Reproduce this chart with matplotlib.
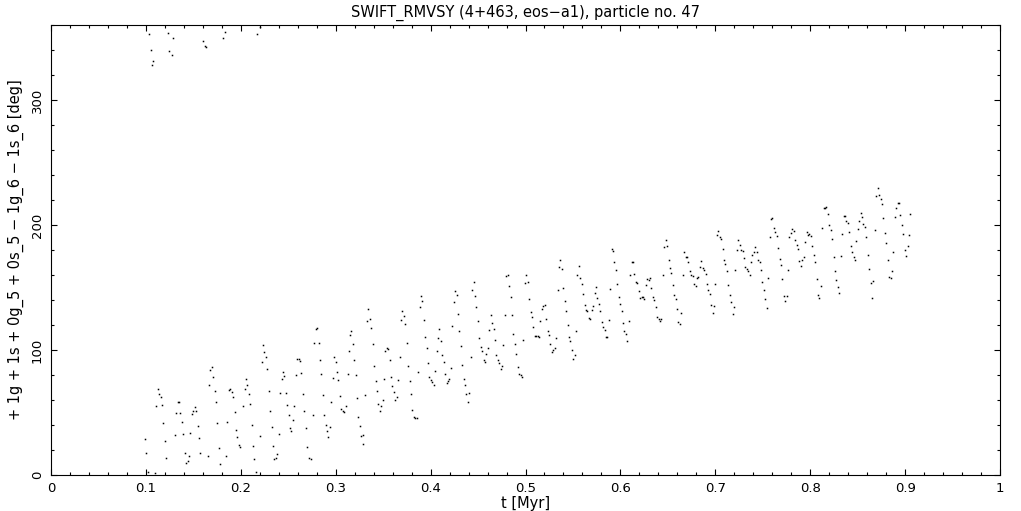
import matplotlib
matplotlib.use('Agg')
import matplotlib.pyplot as plt
from matplotlib.ticker import MultipleLocator

# resonant angle of particle 47 (t in Myr, angle in deg)
t_myr = [
    # 0.10 - 0.25
    0.0991, 0.1004, 0.1025, 0.1096, 0.1131, 0.1141, 0.1159, 0.1173, 0.1110, 0.1180,
    0.1205, 0.1215, 0.1342, 0.1352, 0.1320, 0.1359, 0.1384, 0.1310, 0.1394, 0.1415,
    0.1451, 0.1444, 0.1426, 0.1468, 0.1486, 0.1500, 0.1521, 0.1531, 0.1552, 0.1563,
    0.1573, 0.1668, 0.1679, 0.1700, 0.1710, 0.1731, 0.1742, 0.1752, 0.1773, 0.1784,
    0.1658, 0.1879, 0.1889, 0.1910, 0.1921, 0.1942, 0.1953, 0.1963, 0.1984, 0.1995,
    0.1858, 0.1847, 0.2026, 0.2047, 0.2058, 0.2068, 0.2090, 0.2100, 0.2121, 0.2132,
    0.2142, 0.2163, 0.2227, 0.2279, 0.2300, 0.2311, 0.2332, 0.2342, 0.2353, 0.2374,
    0.2385, 0.2406, 0.2416, 0.2437, 0.2448, 0.2458, 0.2479, 0.2490, 0.2511, 0.2205,
    0.2237, 0.2248, 0.2269,
    # wrapped around 360
    0.1036, 0.1057, 0.1075, 0.1068, 0.1236, 0.1289, 0.1247, 0.1272, 0.1605, 0.1623,
    0.1633, 0.1837, 0.1816, 0.2202, 0.2174,
    # 0.25 - 0.41
    0.2522, 0.2532, 0.2554, 0.2564, 0.2585, 0.2596, 0.2617, 0.2627, 0.2638, 0.2659,
    0.2669, 0.2690, 0.2701, 0.2722, 0.2743, 0.2764, 0.2775, 0.2796, 0.2806, 0.2827,
    0.2838, 0.2849, 0.2870, 0.2880, 0.2901, 0.2912, 0.2922, 0.2943, 0.2954, 0.2975,
    0.2986, 0.3007, 0.3017, 0.3028, 0.3049, 0.3059, 0.3080, 0.3091, 0.3112, 0.3133,
    0.3144, 0.3154, 0.3165, 0.3186, 0.3196, 0.3217, 0.3228, 0.3238, 0.3260, 0.3270,
    0.3291, 0.3291, 0.3312, 0.3344, 0.3333, 0.3365, 0.3375, 0.3397, 0.3407, 0.3428,
    0.3439, 0.3449, 0.3470, 0.3481, 0.3502, 0.3512, 0.3523, 0.3544, 0.3555, 0.3576,
    0.3586, 0.3597, 0.3618, 0.3628, 0.3649, 0.3660, 0.3681, 0.3692, 0.3702, 0.3723,
    0.3734, 0.3755, 0.3765, 0.3786, 0.3797, 0.3808, 0.3829, 0.3839, 0.3860, 0.3871,
    0.3892, 0.3902, 0.3913, 0.3934, 0.3944, 0.3966, 0.3976, 0.3987, 0.4008, 0.4018,
    0.4039, 0.4050, 0.4071, 0.4081, 0.4092,
    # 0.41 - 0.57
    0.4113, 0.4124, 0.4145, 0.4155, 0.4176, 0.4187, 0.4197, 0.4218, 0.4229, 0.4250,
    0.4261, 0.4282, 0.4292, 0.4303, 0.4324, 0.4334, 0.4355, 0.4366, 0.4376, 0.4398,
    0.4408, 0.4429, 0.4440, 0.4461, 0.4471, 0.4482, 0.4503, 0.4513, 0.4535, 0.4545,
    0.4566, 0.4577, 0.4587, 0.4608, 0.4619, 0.4640, 0.4651, 0.4672, 0.4682, 0.4693,
    0.4714, 0.4724, 0.4745, 0.4756, 0.4766, 0.4787, 0.4798, 0.4819, 0.4830, 0.4851,
    0.4861, 0.4872, 0.4893, 0.4903, 0.4924, 0.4935, 0.4956, 0.4967, 0.4977, 0.4998,
    0.5009, 0.5030, 0.5040, 0.5061, 0.5072, 0.5082, 0.5104, 0.5114, 0.5135, 0.5146,
    0.5156, 0.5177, 0.5188, 0.5209, 0.5219, 0.5241, 0.5251, 0.5262, 0.5283, 0.5293,
    0.5314, 0.5325, 0.5346, 0.5356, 0.5367, 0.5388, 0.5399, 0.5420, 0.5430, 0.5451,
    0.5462, 0.5472, 0.5493, 0.5504, 0.5525, 0.5536, 0.5546, 0.5567, 0.5578, 0.5599,
    0.5609, 0.5630, 0.5641, 0.5651, 0.5673, 0.5683, 0.5704, 0.5715,
    # 0.57 - 0.74
    0.5736, 0.5746, 0.5757, 0.5778, 0.5789, 0.5810, 0.5820, 0.5841, 0.5852, 0.5862,
    0.5883, 0.5894, 0.5915, 0.5926, 0.5936, 0.5957, 0.5968, 0.5989, 0.5999, 0.6020,
    0.6031, 0.6041, 0.6062, 0.6073, 0.6094, 0.6105, 0.6126, 0.6136, 0.6147, 0.6168,
    0.6178, 0.6199, 0.6210, 0.6231, 0.6242, 0.6252, 0.6273, 0.6284, 0.6305, 0.6315,
    0.6326, 0.6347, 0.6358, 0.6379, 0.6389, 0.6410, 0.6421, 0.6431, 0.6452, 0.6463,
    0.6484, 0.6494, 0.6515, 0.6526, 0.6537, 0.6558, 0.6568, 0.6589, 0.6600, 0.6610,
    0.6631, 0.6642, 0.6663, 0.6674, 0.6695, 0.6705, 0.6716, 0.6737, 0.6747, 0.6768,
    0.6779, 0.6800, 0.6811, 0.6821, 0.6842, 0.6853, 0.6874, 0.6884, 0.6905, 0.6916,
    0.6927, 0.6948, 0.6958, 0.6979, 0.6990, 0.7000, 0.7021, 0.7032, 0.7053, 0.7063,
    0.7085, 0.7095, 0.7106, 0.7127, 0.7137, 0.7158, 0.7169, 0.7190, 0.7200, 0.7211,
    0.7232, 0.7243, 0.7264, 0.7274, 0.7295, 0.7306, 0.7316, 0.7337, 0.7348,
    # 0.74 - 0.91
    0.7369, 0.7380, 0.7390, 0.7411, 0.7422, 0.7443, 0.7453, 0.7475, 0.7485, 0.7496,
    0.7517, 0.7527, 0.7548, 0.7559, 0.7580, 0.7590, 0.7601, 0.7622, 0.7633, 0.7654,
    0.7664, 0.7685, 0.7696, 0.7706, 0.7727, 0.7738, 0.7759, 0.7770, 0.7780, 0.7801,
    0.7812, 0.7833, 0.7843, 0.7864, 0.7875, 0.7885, 0.7906, 0.7917, 0.7938, 0.7949,
    0.7970, 0.7980, 0.7991, 0.8012, 0.8022, 0.8044, 0.8054, 0.8075, 0.8086, 0.8096,
    0.8117, 0.8128, 0.8149, 0.8159, 0.8170, 0.8191, 0.8202, 0.8223, 0.8233, 0.8254,
    0.8265, 0.8275, 0.8296, 0.8307, 0.8328, 0.8339, 0.8360, 0.8370, 0.8381, 0.8402,
    0.8412, 0.8433, 0.8444, 0.8465, 0.8476, 0.8486, 0.8507, 0.8518, 0.8539, 0.8549,
    0.8560, 0.8581, 0.8591, 0.8613, 0.8623, 0.8644, 0.8655, 0.8665, 0.8686, 0.8697,
    0.8718, 0.8728, 0.8750, 0.8760, 0.8771, 0.8792, 0.8802, 0.8823, 0.8834, 0.8855,
    0.8865, 0.8876, 0.8897, 0.8908, 0.8929, 0.8939, 0.8950, 0.8971, 0.8981, 0.9002,
    0.9013, 0.9034, 0.9045, 0.9055,
]

angle_deg = [
    # 0.10 - 0.25
    28.5, 17.3, 2.7, 1.3, 68.5, 64.5, 62.1, 55.7, 54.9, 41.6,
    27.2, 13.3, 58.7, 58.1, 49.3, 49.3, 42.1, 31.7, 32.5, 17.3,
    14.9, 10.9, 9.3, 33.3, 48.5, 51.5, 54.7, 50.9, 38.9, 29.3,
    17.3, 72.0, 83.7, 86.1, 78.1, 66.9, 58.1, 41.6, 21.3, 8.5,
    14.9, 67.7, 69.1, 66.1, 62.1, 50.1, 35.7, 30.1, 23.7, 22.1,
    42.1, 14.9, 54.9, 68.5, 76.5, 71.7, 64.5, 56.5, 39.7, 22.9,
    12.5, 2.1, 90.1, 84.5, 66.9, 50.9, 38.1, 22.9, 12.5, 13.3,
    16.5, 32.5, 65.3, 76.5, 82.1, 78.9, 65.3, 55.7, 47.7, 30.9,
    103.8, 98.2, 94.2,
    # wrapped around 360
    352.5, 339.7, 330.9, 328.0, 353.3, 349.3, 338.9, 336.0, 346.9, 343.5,
    342.1, 354.1, 349.3, 358.1, 352.5,
    # 0.25 - 0.41
    37.3, 34.9, 43.7, 54.9, 79.7, 92.5, 92.5, 90.9, 81.3, 64.5,
    50.9, 37.3, 22.1, 13.3, 12.5, 47.7, 105.3, 116.5, 117.3, 105.3,
    91.7, 80.5, 63.7, 47.7, 39.7, 34.9, 30.1, 38.1, 58.1, 77.3,
    94.1, 90.1, 82.1, 75.7, 62.9, 52.5, 50.9, 50.1, 54.9, 80.5,
    98.9, 111.7, 114.9, 104.5, 91.7, 79.7, 61.3, 46.1, 38.9, 30.9,
    31.7, 24.5, 63.7, 132.5, 122.9, 124.5, 117.3, 104.5, 86.9, 74.9,
    66.9, 56.5, 50.9, 54.9, 59.7, 76.5, 98.9, 101.3, 100.5, 91.7,
    78.1, 70.9, 66.1, 59.7, 62.1, 75.7, 94.1, 123.7, 130.9, 126.9,
    120.5, 105.3, 86.9, 74.9, 64.5, 51.7, 46.1, 45.3, 45.3, 82.1,
    134.1, 142.9, 138.9, 123.7, 110.1, 101.3, 89.3, 78.1, 75.7, 74.1,
    71.7, 82.9, 98.9, 109.3, 116.5,
    # 0.41 - 0.57
    106.9, 95.7, 90.1, 80.5, 73.3, 74.9, 76.5, 85.3, 118.9, 138.1,
    146.9, 143.7, 128.5, 114.9, 102.9, 87.7, 76.5, 71.7, 64.5, 58.1,
    65.3, 94.1, 147.7, 154.1, 142.9, 134.1, 122.9, 109.3, 102.1, 98.9,
    91.7, 90.1, 96.5, 101.3, 115.7, 127.7, 121.3, 116.5, 107.7, 95.7,
    91.7, 89.3, 84.5, 86.9, 103.7, 127.7, 158.9, 159.7, 150.9, 142.1,
    127.7, 112.5, 104.5, 96.5, 86.1, 80.5, 79.7, 78.1, 107.7, 153.3,
    159.7, 154.1, 140.5, 130.1, 126.1, 118.1, 110.9, 110.9, 110.9, 110.1,
    122.9, 132.5, 134.9, 135.7, 124.5, 114.9, 111.7, 104.5, 98.1, 99.7,
    101.3, 109.3, 147.7, 166.1, 171.7, 164.5, 149.3, 138.9, 130.9, 119.7,
    110.1, 106.9, 99.7, 92.5, 95.7, 114.9, 159.7, 166.9, 157.3, 152.5,
    144.5, 135.7, 131.7, 130.9, 125.3, 124.5, 131.7, 134.9,
    # 0.57 - 0.74
    145.3, 150.1, 141.3, 136.5, 130.9, 122.1, 118.1, 115.7, 110.1, 110.1,
    123.7, 148.5, 180.5, 178.9, 170.1, 163.7, 152.5, 142.1, 136.5, 130.9,
    121.3, 114.9, 112.5, 106.9, 122.9, 159.7, 170.1, 170.1, 160.5, 154.1,
    153.3, 146.9, 141.3, 142.1, 142.1, 140.5, 151.7, 156.5, 155.7, 157.3,
    149.3, 142.1, 139.7, 134.1, 126.1, 124.5, 122.9, 124.5, 159.7, 182.1,
    187.7, 182.9, 171.7, 165.3, 161.3, 151.7, 143.7, 140.5, 132.5, 122.1,
    120.5, 129.3, 159.7, 178.1, 174.1, 174.1, 170.1, 162.9, 159.7, 158.9,
    152.5, 150.9, 157.3, 158.1, 166.1, 170.9, 165.3, 163.7, 160.5, 152.5,
    147.7, 144.5, 135.7, 129.3, 134.9, 152.5, 191.7, 194.9, 190.1, 188.5,
    180.5, 171.7, 168.5, 162.9, 151.7, 143.7, 138.1, 128.5, 134.1, 163.7,
    179.7, 187.7, 183.7, 179.7, 178.9, 173.3, 166.1, 165.1, 162.9,
    # 0.74 - 0.91
    159.7, 170.1, 175.7, 178.1, 182.1, 178.1, 171.7, 170.1, 163.7, 154.1,
    147.7, 140.5, 133.3, 157.3, 190.1, 204.5, 205.3, 197.3, 194.1, 190.9,
    181.3, 172.5, 167.7, 156.5, 142.9, 138.9, 142.9, 163.7, 190.1, 193.3,
    196.5, 194.9, 187.7, 183.7, 180.5, 170.9, 166.9, 171.7, 174.1, 186.1,
    194.1, 191.7, 192.5, 190.9, 182.9, 175.7, 170.1, 156.5, 143.7, 141.3,
    150.9, 197.3, 213.3, 213.3, 214.1, 208.5, 199.7, 195.7, 188.5, 174.1,
    162.9, 155.7, 150.1, 145.3, 174.9, 192.5, 206.9, 206.9, 202.9, 201.3,
    194.1, 182.9, 178.1, 174.1, 171.7, 186.9, 196.5, 202.9, 209.3, 206.1,
    200.5, 198.1, 190.1, 175.7, 164.5, 153.3, 141.3, 154.9, 195.7, 222.9,
    229.3, 223.7, 220.5, 216.5, 205.3, 193.3, 185.3, 171.7, 158.1, 157.3,
    162.9, 178.1, 206.1, 213.3, 217.3, 217.3, 207.7, 199.7, 192.5, 179.7,
    174.9, 182.9, 191.7, 208.5,
]

fig = plt.figure(figsize=(10.21, 5.11), dpi=100)
ax = fig.add_axes([51/1021, 36/511, 949/1021, 450/511])

ax.plot(t_myr, angle_deg, ls='none', marker='s', ms=1.1, mew=0, color='k')

ax.set_xlim(0, 1)
ax.set_ylim(0, 360)
ax.xaxis.set_major_locator(MultipleLocator(0.1))
ax.xaxis.set_minor_locator(MultipleLocator(0.02))
ax.yaxis.set_major_locator(MultipleLocator(100))
ax.yaxis.set_minor_locator(MultipleLocator(20))
ax.xaxis.set_major_formatter(plt.FuncFormatter(lambda v, p: '%g' % round(v, 2)))
ax.tick_params(which='both', direction='in', top=True, right=True,
               width=0.8, colors='k', labelsize=9.5)
ax.tick_params(which='major', length=4.5, pad=5)
ax.tick_params(which='minor', length=2.2)
for lab in ax.get_yticklabels():
    lab.set_rotation(90)
    lab.set_va('center')
for s in ax.spines.values():
    s.set_linewidth(0.8)

ax.set_title('SWIFT_RMVSY (4+463, eos\u2212a1), particle no. 47', fontsize=10.5, pad=6)
ax.set_xlabel('t [Myr]', fontsize=10.5, labelpad=1)
ax.set_ylabel('+ 1g + 1s + 0g_5 + 0s_5 \u2212 1g_6 \u2212 1s_6 [deg]', fontsize=10.5, labelpad=5)

fig.savefig('out.png', dpi=100, facecolor='white')
